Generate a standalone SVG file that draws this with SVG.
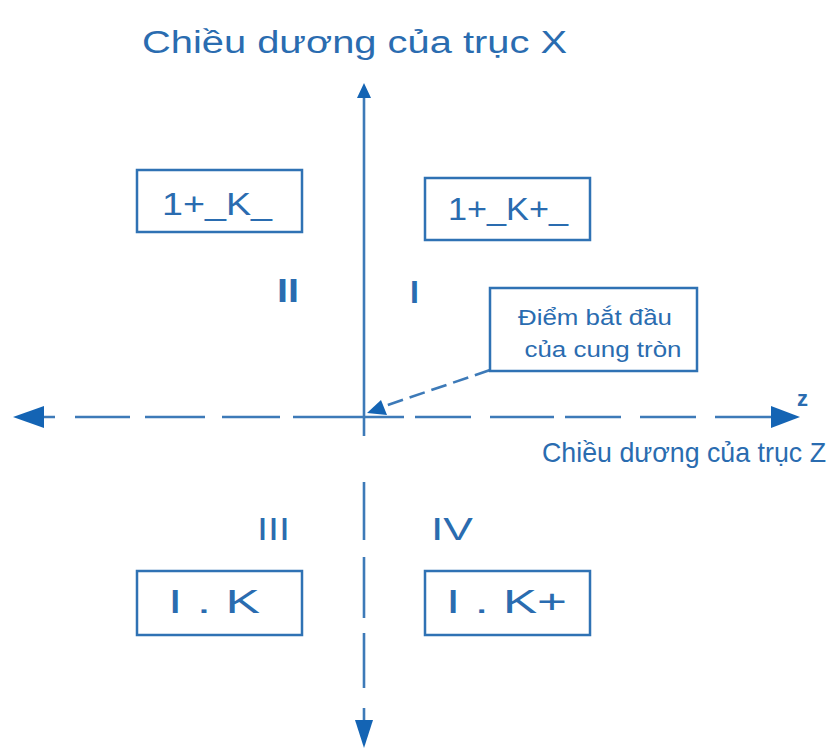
<svg xmlns="http://www.w3.org/2000/svg" width="840" height="749" viewBox="0 0 840 749">
<style>
  .t { font-family: "Liberation Sans", Arial, sans-serif; fill: #2a6cb0; }
  .box { fill: #ffffff; stroke: #2f72b4; stroke-width: 2.5; }
  .ax { stroke: #3d7ab8; stroke-width: 2.6; fill: none; }
  .head { fill: #1464b4; }
</style>
<rect width="840" height="749" fill="#ffffff"/>
<g id="title-x">
  <text class="t" x="142" y="53" font-size="31" textLength="425" lengthAdjust="spacingAndGlyphs">Chiều dương của trục X</text>
</g>
<g id="connectors">
  <!-- vertical axis -->
  <line class="ax" x1="364" y1="95" x2="364" y2="436" stroke-width="2"/>
  <path class="ax" d="M364 482V540M364 557V618M364 633V688M364 708V722"/>
  <polygon class="head" points="364,83 357,98 371,98"/>
  <polygon class="head" points="364,748 355,720 373,720"/>
  <!-- horizontal axis -->
  <path class="ax" d="M43 417H55M75 417H130M145 417H205M222 417H280M293 417H404M415 417H471M490 417H554M565 417H621M640 417H696M715 417H773"/>
  <polygon class="head" points="13,417 44,406 44,428"/>
  <polygon class="head" points="800,417 771,406 771,428"/>
  <!-- leader -->
  <line class="ax" x1="490" y1="370" x2="382" y2="407" stroke-dasharray="16 7" stroke-width="2.4"/>
  <polygon class="head" points="367,413 381,400 387,415"/>
</g>
<g id="box-q2">
  <rect class="box" x="137" y="170" width="165" height="62"/>
  <text class="t" x="162" y="215" font-size="32" textLength="110" lengthAdjust="spacingAndGlyphs">1+_K_</text>
</g>
<g id="box-q1">
  <rect class="box" x="425" y="178" width="165" height="62"/>
  <text class="t" x="448" y="220" font-size="32" textLength="120" lengthAdjust="spacingAndGlyphs">1+_K+_</text>
</g>
<g id="label-II"><text class="t" x="277" y="302" font-size="34" font-weight="bold" textLength="22" lengthAdjust="spacingAndGlyphs">II</text></g>
<g id="label-I"><text class="t" x="410" y="303" font-size="32" font-weight="bold">I</text></g>
<g id="box-start">
  <rect class="box" x="490" y="288" width="207" height="83"/>
  <text class="t" x="595" y="325" font-size="22" text-anchor="middle" textLength="154" lengthAdjust="spacingAndGlyphs">Điểm bắt đầu</text>
  <text class="t" x="603" y="357" font-size="22" text-anchor="middle" textLength="157" lengthAdjust="spacingAndGlyphs">của cung tròn</text>
</g>
<g id="label-z"><text class="t" x="797" y="406" font-size="22" font-weight="bold" fill="#4a6f99">z</text></g>
<g id="title-z">
  <text class="t" x="542" y="462" font-size="28" textLength="284" lengthAdjust="spacingAndGlyphs">Chiều dương của trục Z</text>
</g>
<g id="label-III"><text class="t" x="257" y="540" font-size="32" textLength="33" lengthAdjust="spacingAndGlyphs">III</text></g>
<g id="label-IV"><text class="t" x="431" y="540" font-size="32" textLength="42" lengthAdjust="spacingAndGlyphs">IV</text></g>
<g id="box-q3">
  <rect class="box" x="137" y="571" width="165" height="64"/>
  <text class="t" x="168" y="613" font-size="33" textLength="92" lengthAdjust="spacingAndGlyphs">I . K</text>
</g>
<g id="box-q4">
  <rect class="box" x="425" y="571" width="165" height="64"/>
  <text class="t" x="446" y="613" font-size="33" textLength="121" lengthAdjust="spacingAndGlyphs">I . K+</text>
</g>
</svg>
